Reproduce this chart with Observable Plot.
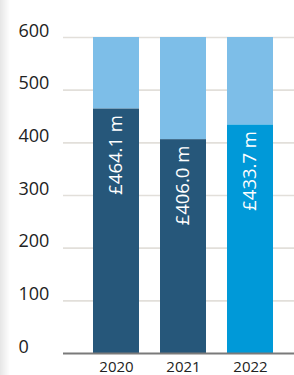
<!DOCTYPE html>
<html>
<head>
<meta charset="utf-8">
<script src="https://cdn.jsdelivr.net/npm/d3@7"></script>
<script src="https://cdn.jsdelivr.net/npm/@observablehq/plot@0.6"></script>
<style>
  html, body { margin: 0; padding: 0; background: #fff; }
  #wrap { position: relative; width: 294px; height: 375px; overflow: hidden; }
  #shade { position: absolute; left: 0; top: 0; width: 10px; height: 375px;
           background: linear-gradient(to right, #e6e6e6, #ffffff); }
  #chart { position: absolute; left: 0; top: 0; }
  svg { font-family: "Open Sans", "Noto Sans", sans-serif; }
</style>
</head>
<body>
<div id="wrap"><div id="shade"></div><div id="chart"></div></div>
<script>
const years = ["2020", "2021", "2022"];
const values = [464.1, 406.0, 433.7];
const labels = ["£464.1 m", "£406.0 m", "£433.7 m"];
const total = 600;
const yTicks = [0, 100, 200, 300, 400, 500, 600];
const barColors = ["#26577a", "#26577a", "#0099d8"];
const restColor = "#7dbee8";

const data = years.map((y, i) => ({year: y, value: values[i], label: labels[i], color: barColors[i]}));

const chart = Plot.plot({
  width: 294,
  height: 375,
  marginTop: 37,
  marginBottom: 22,
  marginLeft: 63,
  marginRight: 0,
  style: {background: "transparent", fontFamily: "'Open Sans', 'Noto Sans', sans-serif"},
  x: {domain: years, padding: 0.32, paddingOuter: 0.366, align: 0.58, label: null},
  y: {domain: [0, 600], label: null},
  marks: [
    Plot.ruleY(yTicks.slice(1), {stroke: "#e2dfda", strokeWidth: 1.6}),
    Plot.barY(data, {x: "year", y1: "value", y2: total, fill: restColor}),
    Plot.barY(data, {x: "year", y1: 0, y2: "value", fill: "color"}),
    Plot.ruleY([0], {stroke: "#7a7a7a", strokeWidth: 1.8}),
    Plot.text(data, {
      x: "year", y: "value", text: "label", rotate: -90,
      textAnchor: "end", dy: 6, fill: "white", fontSize: 18.5
    }),
    Plot.text(yTicks, {
      y: d => d, text: d => String(d), frameAnchor: "left",
      textAnchor: "start", lineAnchor: "bottom", dx: -45, dy: -1,
      fill: "#222", fontSize: 18
    }),
    Plot.text(years, {
      x: d => d, text: d => d, frameAnchor: "bottom", lineAnchor: "top",
      dy: 8, fill: "#222", fontSize: 15
    })
  ],
  axis: null
});
document.getElementById("chart").appendChild(chart);
</script>
</body>
</html>
